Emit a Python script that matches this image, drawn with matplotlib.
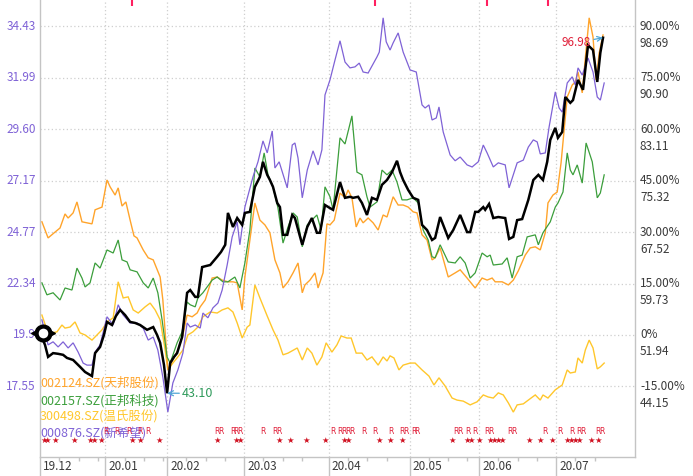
import matplotlib
matplotlib.use('Agg')
import matplotlib.pyplot as plt
import matplotlib.transforms as mtransforms
from matplotlib.ticker import FixedLocator

plt.rcParams['font.family'] = ['Noto Sans CJK SC', 'DejaVu Sans']

# ---------------- data (x = trading-day index, y = % change) ----------------
BLACK = [(0.0,0.6),(1.3,-2.9),(2.1,-6.4),(3.4,-5.3),(4.7,-5.5),(6.0,-5.8),(7.0,-6.7),(8.6,-7.3),
 (10.4,-9.3),(11.7,-10.8),(13.5,-12.0),(14.3,-5.3),(15.6,-3.5),(16.6,0.0),(17.4,3.8),(18.7,2.9),
 (19.7,5.5),(20.8,7.3),(22.1,5.8),(23.4,3.8),(24.7,3.5),(26.0,2.9),(27.8,1.5),(29.4,2.3),(30.4,0.0),
 (31.2,-2.3),(32.2,-8.8),(33.0,-17.0),(33.8,-8.2),(34.8,-6.4),(35.6,-5.3),(36.9,-0.6),(38.2,12.3),
 (39.0,13.1),(40.3,11.1),(41.0,11.1),(42.1,19.8),(43.1,20.1),(44.2,20.4),(46.0,22.8),(47.0,24.2),
 (48.1,26.3),(48.8,35.6),(50.1,31.5),(51.2,34.1),(52.5,32.1),(53.2,35.6),(54.5,35.9),(55.8,43.2),
 (57.1,46.1),(57.9,50.5),(59.0,46.7),(59.7,45.2),(60.5,43.2),(61.6,38.5),(62.3,37.3),(63.1,29.2),
 (64.2,29.2),(65.5,35.0),(66.2,34.1),(68.1,26.3),(69.4,31.5),(70.6,34.1),(71.9,29.8),(72.7,29.8),
 (74.0,37.9),(75.3,37.0),(76.1,36.5),(77.9,44.6),(79.2,40.0),(80.5,40.3),(81.3,40.0),(82.6,40.3),
 (83.6,38.5),(84.9,35.0),(86.2,40.0),(87.5,39.4),(88.8,43.8),(90.1,45.2),(91.4,47.5),(92.7,50.8),
 (93.5,47.5),(94.3,45.2),(95.6,42.3),(96.9,40.0),(98.2,39.4),(99.2,32.1),(100.5,30.6),(101.8,27.7),
 (102.6,28.3),(103.9,34.4),(106.0,28.3),(107.3,30.6),(109.1,35.0),(110.9,30.0),(111.7,30.0),
 (113.0,35.9),(113.8,35.9),(115.1,37.3),(115.6,36.5),(116.6,38.2),(117.7,34.1),(119.0,34.4),
 (120.8,34.1),(121.8,28.0),(122.9,28.6),(123.9,33.5),(125.2,33.8),(126.8,39.4),(128.1,45.2),
 (129.4,46.7),(130.6,45.2),(131.7,50.5),(132.5,56.9),(133.8,60.4),(134.5,57.5),(135.6,59.2),
 (136.4,69.4),(137.7,67.7),(138.4,68.5),(139.7,74.4),(141.0,71.5),(142.3,84.5),(143.6,83.1),
 (144.7,73.8),(145.5,82.3),(146.2,86.7)]

PURPLE = [(0.5,4.4),(2.1,-2.9),(3.4,-2.0),(4.7,-3.5),(6.0,-2.0),(7.3,-3.8),(8.6,-2.3),(9.9,-5.0),
 (11.2,-8.2),(12.2,-8.8),(13.5,-8.8),(14.3,-5.0),(15.6,-2.9),(17.4,5.3),(19.0,2.9),(20.3,8.8),
 (21.6,5.8),(23.4,3.5),(25.2,3.5),(26.8,2.0),(28.1,-1.5),(29.4,-0.6),(30.6,-4.4),(31.9,-12.3),
 (33.2,-22.5),(34.5,-14.0),(35.8,-10.2),(37.1,-5.3),(38.2,3.5),(39.0,2.3),(40.3,2.9),(41.6,2.0),
 (42.3,6.4),(43.6,5.0),(44.9,7.9),(46.2,9.3),(47.3,13.1),(48.6,20.4),(49.9,28.6),(51.2,33.0),
 (51.9,26.3),(53.2,37.3),(55.3,46.1),(56.6,50.5),(57.9,56.6),(59.0,53.1),(60.3,59.5),(61.0,48.7),
 (62.1,50.5),(64.2,42.9),(65.5,55.4),(66.2,56.0),(67.0,51.6),(68.1,40.0),(69.4,48.1),(70.9,53.7),
 (72.2,49.6),(73.2,54.0),(74.0,70.0),(75.3,74.4),(76.6,80.2),(77.9,85.8),(79.2,79.6),(80.5,77.9),
 (81.8,78.2),(82.9,79.3),(83.9,76.7),(85.2,76.4),(87.5,81.1),(88.1,82.5),(89.1,92.5),(89.9,85.5),
 (90.9,83.1),(91.7,85.2),(93.0,88.1),(94.3,82.5),(96.1,77.3),(97.7,76.7),(99.2,67.1),(100.0,66.2),
 (101.0,67.1),(101.8,62.7),(102.9,63.3),(103.6,66.5),(104.7,59.2),(106.5,52.5),(107.8,50.8),
 (109.1,51.9),(110.9,49.6),(112.2,49.0),(113.8,50.5),(115.1,55.4),(116.1,53.1),(117.7,49.0),
 (119.0,50.2),(120.8,49.6),(121.8,42.9),(123.9,50.2),(125.5,51.0),(126.8,54.8),(128.1,56.9),
 (129.1,56.3),(129.9,52.8),(131.2,53.1),(132.2,60.7),(133.8,70.9),(134.8,66.2),(135.6,65.0),
 (136.9,73.5),(138.2,75.3),(139.0,72.9),(139.7,77.9),(140.8,75.8),(142.3,80.8),(143.6,76.7),
 (144.7,69.4),(145.5,68.5),(146.5,73.5)]

GREEN = [(0.5,15.2),(1.8,11.7),(3.4,12.3),(5.2,10.2),(6.5,13.7),(8.3,13.1),(9.6,19.5),(10.9,16.6),
 (11.7,14.0),(13.0,15.2),(14.3,21.0),(15.6,19.5),(17.4,24.8),(19.0,23.9),(20.3,27.7),(21.3,21.9),
 (22.6,21.3),(23.4,19.0),(25.2,18.4),(26.8,15.2),(28.1,13.7),(29.4,16.6),(30.6,12.3),(31.7,4.4),
 (33.0,-6.4),(33.8,-8.2),(35.6,-2.3),(36.9,0.9),(38.2,9.6),(39.0,8.8),(40.3,8.2),(41.0,10.8),
 (42.3,12.3),(44.7,16.0),(46.0,16.9),(47.5,15.5),(48.8,15.5),(50.6,16.9),(51.9,13.7),(53.2,21.0),
 (54.5,30.6),(55.8,48.7),(57.1,46.1),(58.2,53.1),(59.2,46.7),(60.5,43.2),(61.8,37.0),(63.1,26.8),
 (64.4,31.5),(65.7,35.6),(66.8,34.4),(68.1,25.7),(69.4,32.1),(70.6,33.5),(71.9,35.0),(73.0,30.6),
 (74.0,43.2),(75.3,40.3),(76.1,36.5),(77.9,57.5),(79.2,55.7),(81.0,63.9),(82.3,47.5),(83.6,46.7),
 (84.9,40.3),(85.7,37.3),(87.5,38.8),(88.8,48.1),(90.1,46.7),(91.4,48.1),(92.7,44.6),(94.0,39.4),
 (95.3,39.4),(96.9,40.0),(98.2,38.5),(99.5,30.6),(100.8,27.7),(101.8,22.8),(102.6,22.5),(103.9,26.3),
 (106.0,21.3),(107.8,21.0),(109.1,22.8),(110.4,21.0),(111.7,16.6),(113.0,18.1),(114.8,23.9),
 (116.1,22.8),(116.9,23.3),(117.7,20.4),(120.0,20.7),(121.3,22.5),(122.6,16.6),(123.9,22.8),
 (125.2,23.3),(126.5,28.6),(128.6,29.2),(129.4,26.3),(130.6,29.8),(132.5,33.0),(133.8,37.3),
 (134.5,38.5),(135.8,41.7),(136.9,53.1),(137.7,48.1),(138.4,46.7),(139.5,49.6),(140.8,44.3),
 (141.8,56.0),(143.4,50.5),(144.7,40.0),(145.5,41.4),(146.5,46.7)]

ORANGE = [(0.5,33.0),(2.1,28.3),(3.9,30.0),(5.2,31.2),(6.5,35.3),(7.3,34.1),(8.6,35.6),(9.6,38.8),
 (10.9,33.0),(13.5,32.4),(14.3,36.5),(16.1,37.3),(17.4,45.2),(18.2,43.2),(19.5,40.8),(20.3,42.9),
 (21.3,37.6),(22.3,38.8),(23.4,33.5),(24.4,28.9),(25.2,28.3),(26.8,24.8),(28.1,22.5),(29.4,21.9),
 (31.2,16.9),(31.9,10.2),(33.2,-10.2),(34.5,-7.3),(35.8,-4.4),(37.1,0.0),(38.2,5.8),(39.5,5.3),
 (40.8,6.4),(41.6,8.2),(42.9,10.2),(44.7,16.6),(46.0,16.9),(47.3,16.0),(48.8,15.5),(50.1,15.5),
 (51.2,15.2),(52.5,7.3),(53.2,16.9),(54.5,27.7),(55.8,38.5),(57.1,33.5),(58.4,32.1),(59.7,29.8),
 (61.0,21.9),(62.3,18.1),(63.1,13.7),(64.4,15.5),(65.7,18.1),(67.0,21.0),(68.1,12.3),(68.8,14.6),
 (70.1,16.0),(71.4,18.1),(72.2,13.7),(73.5,18.1),(74.5,32.4),(75.3,32.1),(76.4,33.5),(77.9,41.4),
 (79.2,40.0),(80.0,42.3),(81.0,40.0),(82.1,31.5),(83.1,34.1),(83.9,32.7),(85.2,34.1),(86.5,32.7),
 (87.8,30.6),(89.1,35.0),(90.1,34.4),(91.7,40.3),(93.0,37.9),(94.3,37.9),(95.6,37.3),(96.9,35.9),
 (97.9,35.6),(99.2,29.2),(100.5,27.7),(101.8,21.9),(102.6,22.5),(103.9,25.4),(106.0,16.9),
 (107.8,18.1),(109.1,19.0),(110.9,16.6),(113.0,13.7),(114.8,16.6),(116.1,16.0),(117.4,16.6),
 (118.2,15.5),(120.0,15.5),(121.6,14.6),(122.9,16.0),(124.2,18.7),(126.0,23.3),(127.3,25.4),
 (128.6,25.7),(129.9,24.8),(131.2,29.8),(131.9,38.5),(133.2,40.8),(134.3,41.7),(135.3,50.2),
 (136.1,59.8),(136.9,69.4),(138.2,72.9),(139.0,73.8),(139.7,76.7),(140.8,70.6),(141.6,80.8),
 (142.6,92.5),(143.6,86.9),(144.4,74.4),(145.2,82.3),(146.2,87.5)]

YELLOW = [(0.5,5.8),(1.8,1.5),(3.1,0.6),(4.4,0.9),(5.7,2.9),(6.5,2.0),(7.8,2.3),(9.1,3.8),(10.4,0.6),
 (11.7,0.0),(13.5,-1.5),(14.8,0.0),(16.1,1.5),(17.4,3.8),(19.0,5.0),(20.3,15.5),(21.6,10.8),(22.9,11.1),
 (24.2,7.3),(25.5,6.4),(27.3,8.2),(28.6,9.3),(29.9,7.3),(31.2,4.4),(32.5,-4.4),(33.2,-10.2),(34.5,-8.2),
 (35.8,-6.4),(37.1,-4.4),(38.4,0.0),(39.7,0.9),(41.0,2.3),(42.3,5.3),(44.2,6.7),(46.0,6.4),(47.3,7.3),
 (48.8,7.9),(50.1,6.7),(51.2,3.5),(52.5,-0.9),(53.8,2.3),(54.5,2.9),(55.8,14.6),(57.1,10.8),(58.9,5.8),
 (60.5,1.5),(61.8,-1.5),(63.1,-5.8),(64.4,-5.3),(66.8,-3.8),(68.1,-7.3),(69.4,-3.8),(70.6,-5.3),
 (71.9,-8.8),(73.2,-6.4),(74.3,-2.3),(75.8,-5.0),(77.1,-2.9),(78.2,-0.3),(79.7,-0.9),(80.8,-0.9),
 (82.1,-5.3),(83.6,-5.3),(84.9,-7.3),(86.2,-6.4),(87.8,-8.8),(89.1,-6.4),(90.1,-7.6),(90.9,-6.1),
 (91.9,-6.7),(93.2,-10.2),(94.3,-8.8),(96.1,-8.2),(97.4,-8.2),(99.2,-10.2),(101.0,-12.0),(102.3,-14.6),
 (103.6,-12.5),(105.2,-14.9),(107.0,-18.4),(108.3,-19.0),(109.9,-19.3),(111.7,-20.4),(113.5,-19.5),
 (115.1,-17.5),(116.4,-18.1),(117.7,-18.4),(119.0,-16.9),(120.3,-17.5),(121.6,-19.8),(122.9,-22.5),
 (123.9,-20.4),(125.5,-20.1),(126.8,-19.0),(128.6,-17.5),(129.9,-19.0),(130.6,-17.5),(131.9,-18.4),
 (133.8,-16.0),(135.6,-14.6),(136.9,-10.2),(137.7,-11.1),(139.0,-10.8),(139.7,-6.7),(140.8,-8.2),
 (141.6,-4.4),(142.6,-1.5),(143.6,-3.8),(144.7,-9.9),(145.5,-9.3),(146.5,-8.2)]

SERIES_NAMES = ['002124.SZ(天邦股份)', '002157.SZ(正邦科技)', '300498.SZ(温氏股份)', '000876.SZ(新希望)']

MONTH_POS = [0, 17, 33, 53, 75, 96, 114, 134]
MONTH_LABELS = ['19.12', '20.01', '20.02', '20.03', '20.04', '20.05', '20.06', '20.07']

PCT_LEVELS = [90, 75, 60, 45, 30, 15, 0, -15]
PCT_LABELS = ['90.00%', '75.00%', '60.00%', '45.00%', '30.00%', '15.00%', '0%', '-15.00%']
PRICE_LABELS = ['98.69', '90.90', '83.11', '75.32', '67.52', '59.73', '51.94', '44.15']
LEFT_LABELS = ['34.43', '31.99', '29.60', '27.17', '24.77', '22.34', '19.9', '17.55']

MIN_LABEL, MAX_LABEL = '43.10', '96.98'

STAR_DAYS = [1, 2, 4, 9, 13, 14, 16, 24, 26, 31, 46, 51, 52, 62, 65, 69, 74, 79, 80, 88, 91, 94,
             107, 111, 112, 114, 117, 118, 119, 120, 127, 130, 133, 137, 138, 139, 140, 143, 145]
R_DAYS = [17, 20, 23, 26, 28, 46, 47, 50, 51, 52, 58, 61, 62, 76, 78, 79, 80, 81, 84, 87, 91, 94, 95,
          97, 98, 108, 109, 111, 113, 116, 117, 122, 123, 131, 135, 138, 140, 141, 145, 146]
TOP_MARK_DAYS = [24, 87, 116, 132]

# ---------------- styling ----------------
C_BLACK = '#000000'
C_PURPLE = '#7F62D6'
C_ORANGE = '#FFA42B'
C_GREEN = '#3B9E3B'
C_YELLOW = '#FFC72C'
C_GRID = '#cfcfcf'
C_TEXT = '#3a3a3a'
C_RED = '#E0203A'

W, H = 693, 476
fig = plt.figure(figsize=(W / 100, H / 100), dpi=100)
ax = fig.add_axes([40 / W, 19 / H, 595 / W, 457 / H])
ax.set_xlim(0, 154.5)
ax.set_ylim(-35.6, 97.7)

for lv in PCT_LEVELS:
    ax.axhline(lv, color=C_GRID, lw=0.9, ls=(0, (1, 2)), zorder=0)
for mp in MONTH_POS[1:]:
    ax.axvline(mp, color=C_GRID, lw=0.9, ls=(0, (1, 2)), zorder=0)

def unzip(s):
    return [p[0] for p in s], [p[1] for p in s]

for data, col, lw in [(YELLOW, C_YELLOW, 1.0), (ORANGE, C_ORANGE, 1.0), (GREEN, C_GREEN, 0.9),
                      (PURPLE, C_PURPLE, 0.9), (BLACK, C_BLACK, 1.8)]:
    xs, ys = unzip(data)
    ax.plot(xs, ys, color=col, lw=lw, solid_joinstyle='miter', zorder=3)

# spines
ax.spines['top'].set_visible(False)
for s in ['left', 'right', 'bottom']:
    ax.spines[s].set_color('#c4c4c4')
    ax.spines[s].set_linewidth(1.0)

ax.set_yticks([])
ax.xaxis.set_major_locator(FixedLocator(MONTH_POS))
ax.set_xticklabels([])
minor = [m + k for m in MONTH_POS for k in (5, 10, 15) if m + k < 147]
ax.xaxis.set_minor_locator(FixedLocator(minor))
ax.tick_params(axis='x', which='major', length=14, color='#c4c4c4', width=1.0)
ax.tick_params(axis='x', which='minor', length=3, color='#c4c4c4', width=1.0)

bx = mtransforms.blended_transform_factory(ax.transData, ax.transAxes)
for mp, lab in zip(MONTH_POS, MONTH_LABELS):
    t = mtransforms.offset_copy(bx, fig=fig, x=3, y=-10, units='dots')
    ax.text(mp, 0, lab, transform=t, ha='left', va='center', fontsize=8.5, color=C_TEXT)

by = mtransforms.blended_transform_factory(ax.transAxes, ax.transData)
for lv, pl, pr, ll in zip(PCT_LEVELS, PCT_LABELS, PRICE_LABELS, LEFT_LABELS):
    t1 = mtransforms.offset_copy(by, fig=fig, x=5, y=0, units='dots')
    ax.text(1, lv, pl, transform=t1, ha='left', va='center', fontsize=8.5, color=C_TEXT)
    t2 = mtransforms.offset_copy(by, fig=fig, x=5, y=-17, units='dots')
    ax.text(1, lv, pr, transform=t2, ha='left', va='center', fontsize=8.5, color=C_TEXT)
    t3 = mtransforms.offset_copy(by, fig=fig, x=-4, y=0, units='dots')
    ax.text(0, lv, ll, transform=t3, ha='right', va='center', fontsize=8.5, color=C_PURPLE)

# legend text block
leg_cols = [C_ORANGE, C_GREEN, C_YELLOW, C_PURPLE]
leg_offsets = [74, 56, 40, 24]
for name, col, off in zip(SERIES_NAMES, leg_cols, leg_offsets):
    t = mtransforms.offset_copy(ax.transAxes, fig=fig, x=0, y=off, units='dots')
    ax.text(0, 0, name, transform=t, ha='left', va='center', fontsize=9, color=col, zorder=4)

# R and star event markers (one text per trading day, as in the reference)
tr = mtransforms.offset_copy(bx, fig=fig, x=0, y=25, units='dots')
for d in R_DAYS:
    ax.text(d, 0, 'R', transform=tr, ha='center', va='center', fontsize=5.5, color=C_RED,
            family='DejaVu Sans', zorder=5)
tst = mtransforms.offset_copy(bx, fig=fig, x=0, y=17, units='dots')
for d in STAR_DAYS:
    ax.text(d, 0, '★', transform=tst, ha='center', va='center', fontsize=6, color='#D01020',
            family='DejaVu Sans', zorder=5)

# top event ticks
tt = mtransforms.offset_copy(bx, fig=fig, x=0, y=-3, units='dots')
ax.plot(TOP_MARK_DAYS, [1] * len(TOP_MARK_DAYS), ls='none', marker='|', ms=5, mew=1.5,
        color='#FF2060', transform=tt, clip_on=False, zorder=5)

# min / max annotations
bx_, by_ = unzip(BLACK)
imin = by_.index(min(by_))
imax = by_.index(max(by_))
ax.annotate(MIN_LABEL, xy=(bx_[imin], by_[imin]), xytext=(15, 0), textcoords='offset pixels',
            ha='left', va='center', fontsize=9, color='#2E9A5A',
            arrowprops=dict(arrowstyle='->', color='#4FA6D6', lw=0.9, shrinkA=0, shrinkB=0), zorder=6)
ax.annotate(MAX_LABEL, xy=(bx_[imax], by_[imax]), xytext=(-12, -5), textcoords='offset pixels',
            ha='right', va='center', fontsize=8.5, color=C_RED,
            arrowprops=dict(arrowstyle='->', color='#4FA6D6', lw=0.9, shrinkA=0, shrinkB=0), zorder=6)

# drag handle at the start
hx, hy = bx_[0] + 0.8, by_[0]
ax.plot([hx], [hy], marker='o', ms=10, mfc='white', mec='black', mew=3, zorder=7, clip_on=False)
for dxp, mk in [(-9, '<'), (9, '>')]:
    t = mtransforms.offset_copy(ax.transData, fig=fig, x=dxp, y=0, units='dots')
    ax.plot([hx], [hy], marker=mk, ms=4, color='black', transform=t, zorder=7, clip_on=False)

fig.savefig('out.png', dpi=100)
